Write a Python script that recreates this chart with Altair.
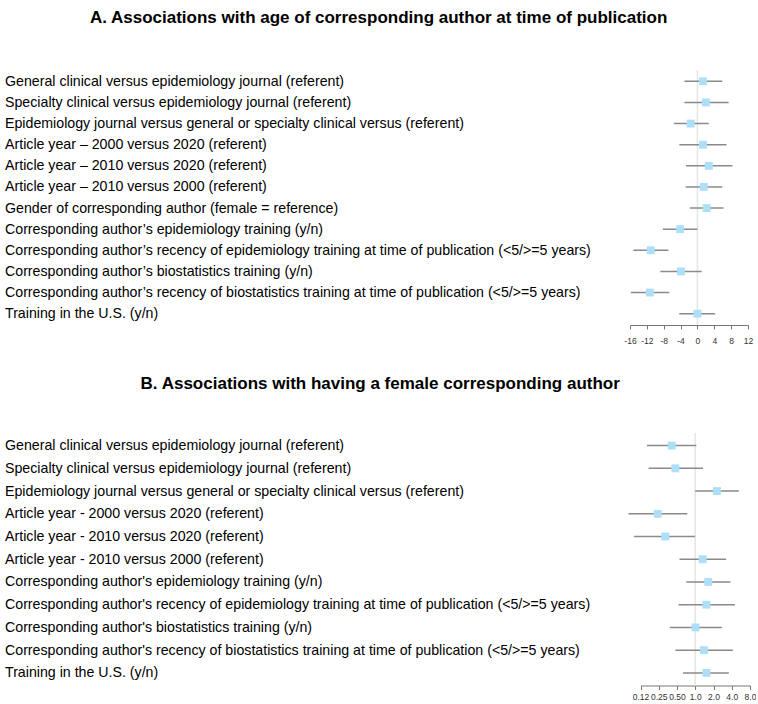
import altair as alt
import pandas as pd

# ---------------- Panel A data ----------------
labels_a = [
    "General clinical versus epidemiology journal (referent)",
    "Specialty clinical versus epidemiology journal (referent)",
    "Epidemiology journal versus general or specialty clinical versus (referent)",
    "Article year \u2013 2000 versus 2020 (referent)",
    "Article year \u2013 2010 versus 2020 (referent)",
    "Article year \u2013 2010 versus 2000 (referent)",
    "Gender of corresponding author (female = reference)",
    "Corresponding author\u2019s epidemiology training (y/n)",
    "Corresponding author\u2019s recency of epidemiology training at time of publication (<5/>=5 years)",
    "Corresponding author\u2019s biostatistics training (y/n)",
    "Corresponding author\u2019s recency of biostatistics training at time of publication (<5/>=5 years)",
    "Training in the U.S. (y/n)",
]
est_a = [1.3, 2.0, -1.6, 1.3, 2.7, 1.5, 2.2, -4.1, -11.1, -3.9, -11.3, 0.0]
lo_a = [-3.1, -3.1, -5.6, -4.3, -2.7, -2.8, -1.8, -8.2, -15.2, -8.8, -15.8, -4.3]
hi_a = [5.9, 7.4, 2.7, 6.9, 8.3, 5.9, 6.2, 0.0, -6.9, 1.0, -6.7, 4.2]
ticks_a = [-16, -12, -8, -4, 0, 4, 8, 12]
ref_a = [0]

# ---------------- Panel B data ----------------
labels_b = [
    "General clinical versus epidemiology journal (referent)",
    "Specialty clinical versus epidemiology journal (referent)",
    "Epidemiology journal versus general or specialty clinical versus (referent)",
    "Article year - 2000 versus 2020 (referent)",
    "Article year - 2010 versus 2020 (referent)",
    "Article year - 2010 versus 2000 (referent)",
    "Corresponding author's epidemiology training (y/n)",
    "Corresponding author's recency of epidemiology training at time of publication (<5/>=5 years)",
    "Corresponding author's biostatistics training (y/n)",
    "Corresponding author's recency of biostatistics training at time of publication (<5/>=5 years)",
    "Training in the U.S. (y/n)",
]
est_b = [0.41, 0.47, 2.28, 0.24, 0.32, 1.32, 1.64, 1.53, 1.01, 1.39, 1.53]
lo_b = [0.16, 0.17, 1.0, 0.079, 0.098, 0.55, 0.71, 0.53, 0.38, 0.47, 0.63]
hi_b = [1.04, 1.34, 5.24, 0.74, 0.99, 3.23, 3.81, 4.50, 2.75, 4.17, 3.58]
ticks_b = [0.125, 0.25, 0.5, 1, 2, 4, 8]
tick_labels_b = ["0.12", "0.25", "0.50", "1.0", "2.0", "4.0", "8.0"]
ref_b = [1]

FONT = "Liberation Sans"
CI_COLOR = "#8a8a8a"
PT_COLOR = "#aedff9"
REF_COLOR = "#e6e6e6"
LABEL_PAD = 625.5


def panel(labels, est, lo, hi, ref, title, scale, axis, width, height,
          pad, title_offset):
    df = pd.DataFrame({"label": labels, "est": est, "lo": lo, "hi": hi})
    ref_df = pd.DataFrame({"ref": ref})
    yenc = alt.Y(
        "label:N", sort=labels,
        scale=alt.Scale(type="point", padding=pad),
        axis=alt.Axis(title=None, labelAlign="left", labelBaseline="middle",
                      labelPadding=LABEL_PAD, labelLimit=0, ticks=False,
                      tickSize=0, domain=False, labelFontSize=14.2,
                      labelColor="#000000", labelFont=FONT),
    )
    rule = alt.Chart(ref_df).mark_rule(color=REF_COLOR, strokeWidth=1.6).encode(
        x=alt.X("ref:Q", scale=scale, axis=axis)
    )
    ci = alt.Chart(df).mark_rule(color=CI_COLOR, strokeWidth=1.5).encode(
        x=alt.X("lo:Q", scale=scale, axis=axis),
        x2="hi:Q",
        y=yenc,
    )
    pts = alt.Chart(df).mark_point(shape="square", filled=True, opacity=1,
                                   color=PT_COLOR, size=62).encode(
        x=alt.X("est:Q", scale=scale, axis=axis),
        y=yenc,
    )
    return alt.layer(rule, ci, pts).properties(
        width=width, height=height,
        title=alt.TitleParams(title, fontSize=17, fontWeight="bold", font=FONT,
                              color="#000000", anchor="middle", frame="bounds",
                              offset=title_offset),
    )


def axis_common(label_padding):
    return dict(title=None, grid=False, tickSize=4, tickColor="#777777",
                domainColor="#777777", labelFontSize=8.5, labelColor="#333333",
                labelFont=FONT, labelPadding=label_padding, labelFlush=False,
                labelOverlap=False)


scale_a = alt.Scale(domain=[-16, 12], nice=False, zero=False)
axis_a = alt.Axis(values=ticks_a, labelExpr="datum.value + ''", **axis_common(7))

scale_b = alt.Scale(type="log", base=2, domain=[0.125, 8], nice=False,
                    range=[10.5, 120])
label_expr = " : ".join(
    f"datum.value < {v * 1.2} ? '{t}'" for v, t in zip(ticks_b[:-1], tick_labels_b[:-1])
) + f" : '{tick_labels_b[-1]}'"
axis_b = alt.Axis(values=ticks_b, labelExpr=label_expr, **axis_common(3))

panel_a = panel(labels_a, est_a, lo_a, hi_a, ref_a,
                "A. Associations with age of corresponding author at time of publication",
                scale_a, axis_a, 118, 255, 0.537, 42.4)
panel_b = panel(labels_b, est_b, lo_b, hi_b, ref_b,
                "B. Associations with having a female corresponding author",
                scale_b, axis_b, 120, 252.5, 0.555, 39.2)

chart = alt.concat(panel_a, panel_b, columns=1, spacing=30).properties(
    padding={"left": 4, "top": 8, "right": 0, "bottom": 0}
).configure_view(stroke=None)

chart.save("out.html", embed_options={"renderer": "svg", "actions": False})
